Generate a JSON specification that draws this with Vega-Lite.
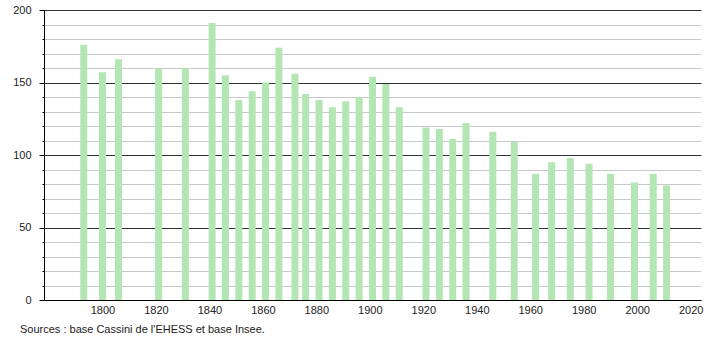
{
  "$schema": "https://vega.github.io/schema/vega-lite/v6.json",
  "autosize": {"type": "none"},
  "width": 657,
  "height": 290,
  "padding": {"left": 44, "top": 10, "right": 9, "bottom": 40},
  "background": "white",
  "config": {"view": {"stroke": null}, "font": "Liberation Sans"},
  "title": {
    "text": "Sources : base Cassini de l'EHESS et base Insee.",
    "orient": "bottom",
    "anchor": "start",
    "frame": "group",
    "dx": -24,
    "offset": 9,
    "fontSize": 11,
    "fontWeight": "normal",
    "color": "#222",
    "font": "Liberation Sans"
  },
  "data": {
    "values": [
      {"year": 1793, "population": 176},
      {"year": 1800, "population": 157},
      {"year": 1806, "population": 166},
      {"year": 1821, "population": 160},
      {"year": 1831, "population": 160},
      {"year": 1841, "population": 191},
      {"year": 1846, "population": 155},
      {"year": 1851, "population": 138},
      {"year": 1856, "population": 144},
      {"year": 1861, "population": 150},
      {"year": 1866, "population": 174},
      {"year": 1872, "population": 156},
      {"year": 1876, "population": 142},
      {"year": 1881, "population": 138},
      {"year": 1886, "population": 133},
      {"year": 1891, "population": 137},
      {"year": 1896, "population": 140},
      {"year": 1901, "population": 154},
      {"year": 1906, "population": 149},
      {"year": 1911, "population": 133},
      {"year": 1921, "population": 119},
      {"year": 1926, "population": 118},
      {"year": 1931, "population": 111},
      {"year": 1936, "population": 122},
      {"year": 1946, "population": 116},
      {"year": 1954, "population": 109},
      {"year": 1962, "population": 87},
      {"year": 1968, "population": 95},
      {"year": 1975, "population": 98},
      {"year": 1982, "population": 94},
      {"year": 1990, "population": 87},
      {"year": 1999, "population": 81},
      {"year": 2006, "population": 87},
      {"year": 2011, "population": 79}
    ]
  },
  "mark": {"type": "bar", "size": 7, "color": "#b3e6b3"},
  "encoding": {
    "x": {
      "field": "year",
      "type": "quantitative",
      "scale": {"domain": [1780, 2022], "nice": false, "zero": false},
      "axis": {
        "title": null,
        "values": [1800, 1820, 1840, 1860, 1880, 1900, 1920, 1940, 1960, 1980, 2000, 2020],
        "format": "d",
        "ticks": false,
        "grid": false,
        "domainColor": "#000",
        "domainWidth": 1,
        "labelPadding": 4,
        "labelFontSize": 11,
        "labelColor": "#222",
        "labelFont": "Liberation Sans",
        "labelFlush": false
      }
    },
    "y": {
      "field": "population",
      "type": "quantitative",
      "scale": {"domain": [0, 200], "nice": false},
      "axis": {
        "title": null,
        "values": [0, 10, 20, 30, 40, 50, 60, 70, 80, 90, 100, 110, 120, 130, 140, 150, 160, 170, 180, 190, 200],
        "labelExpr": "datum.value % 50 === 0 ? datum.label : ''",
        "grid": true,
        "gridColor": {"condition": {"test": "datum.value % 50 === 0", "value": "#333"}, "value": "#c8c8c8"},
        "gridWidth": 1,
        "tickColor": "#000",
        "tickSize": {"condition": {"test": "datum.value % 50 === 0", "value": 5}, "value": 2},
        "domainColor": "#000",
        "labelPadding": 8,
        "labelFontSize": 11,
        "labelColor": "#222",
        "labelFont": "Liberation Sans",
        "labelFlush": false
      }
    }
  }
}
